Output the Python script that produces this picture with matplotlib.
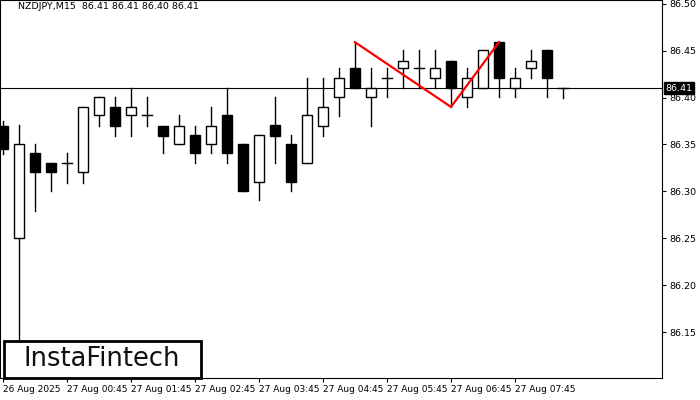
import matplotlib
matplotlib.use("Agg")
import matplotlib.pyplot as plt
from matplotlib.patches import Rectangle

opens  = [86.37,86.25,86.341,86.330,86.330,86.321,86.381,86.390,86.381,86.381,86.370,86.351,86.360,86.351,86.381,86.351,86.310,86.371,86.351,86.330,86.370,86.401,86.431,86.401,86.421,86.431,86.431,86.421,86.439,86.401,86.410,86.459,86.410,86.431,86.451,86.41]
highs  = [86.375,86.371,86.351,86.330,86.341,86.390,86.401,86.401,86.410,86.401,86.370,86.381,86.370,86.390,86.410,86.351,86.360,86.401,86.360,86.421,86.421,86.431,86.459,86.431,86.431,86.451,86.451,86.451,86.439,86.431,86.451,86.459,86.431,86.451,86.451,86.41]
lows   = [86.34,86.136,86.279,86.300,86.309,86.309,86.370,86.359,86.359,86.370,86.341,86.351,86.330,86.341,86.330,86.300,86.291,86.330,86.300,86.330,86.359,86.380,86.410,86.370,86.401,86.410,86.410,86.410,86.390,86.390,86.410,86.401,86.401,86.421,86.401,86.40]
closes = [86.345,86.351,86.321,86.321,86.330,86.390,86.401,86.370,86.390,86.381,86.359,86.370,86.341,86.370,86.341,86.300,86.360,86.359,86.310,86.381,86.390,86.421,86.410,86.410,86.421,86.439,86.431,86.431,86.410,86.421,86.451,86.421,86.421,86.439,86.421,86.41]
pattern_idx = [22, 28, 31]
pattern_px = [86.459, 86.390, 86.459]
tick_idx = [0,4,8,12,16,20,24,28,32]
tick_labels = ["26 Aug 2025","27 Aug 00:45","27 Aug 01:45","27 Aug 02:45","27 Aug 03:45","27 Aug 04:45","27 Aug 05:45","27 Aug 06:45","27 Aug 07:45"]
y_ticks = [86.15,86.20,86.25,86.30,86.35,86.40,86.45,86.50]
last = 86.41

fig = plt.figure(figsize=(7,4), dpi=100)
ax = fig.add_axes([0, 22/400, 662/700, 378/400])
w = 0.62
for i,(o,h,l,c) in enumerate(zip(opens,highs,lows,closes)):
    ax.plot([i,i],[l,h],color="black",lw=1,zorder=2)
    lo, hi = min(o,c), max(o,c)
    if abs(c-o) < 0.002:
        ax.plot([i-w/2,i+w/2],[c,c],color="black",lw=1,zorder=3)
    else:
        ax.add_patch(Rectangle((i-w/2,lo),w,hi-lo,facecolor="black" if c<o else "white",edgecolor="black",lw=1,zorder=3))
ax.axhline(last,color="black",lw=0.8,zorder=1)
ax.plot(pattern_idx,pattern_px,color="red",lw=1.6,zorder=4)
ax.set_xlim(-0.19,41.19)
ax.set_ylim(86.101,86.504)
ax.yaxis.tick_right()
ax.set_yticks(y_ticks)
ax.set_yticklabels([f"{v:.2f}" for v in y_ticks],fontsize=6.8)
ax.set_xticks(tick_idx)
ax.set_xticklabels(tick_labels,fontsize=6.5,ha="left")
ax.tick_params(length=3,width=0.8,pad=2)
for s in ax.spines.values(): s.set_linewidth(0.8)
ax.text(18/662,0.995,"NZDJPY,M15  86.41 86.41 86.40 86.41",transform=ax.transAxes,fontsize=6.8,va="top",ha="left")
ax.text(1.005,last,"86.41",transform=ax.get_yaxis_transform(),fontsize=6.8,va="center",ha="left",color="white",
        bbox=dict(facecolor="black",edgecolor="black",pad=1.2),zorder=5,clip_on=False)
fig.patches.append(Rectangle((4/700,22/400),197/700,37/400,transform=fig.transFigure,facecolor="white",edgecolor="black",lw=2,zorder=10))
fig.text(102/700,1-359/400,"InstaFintech",fontsize=18.5,va="center",ha="center",color="#111111",zorder=11)
fig.savefig("out.png",dpi=100)
